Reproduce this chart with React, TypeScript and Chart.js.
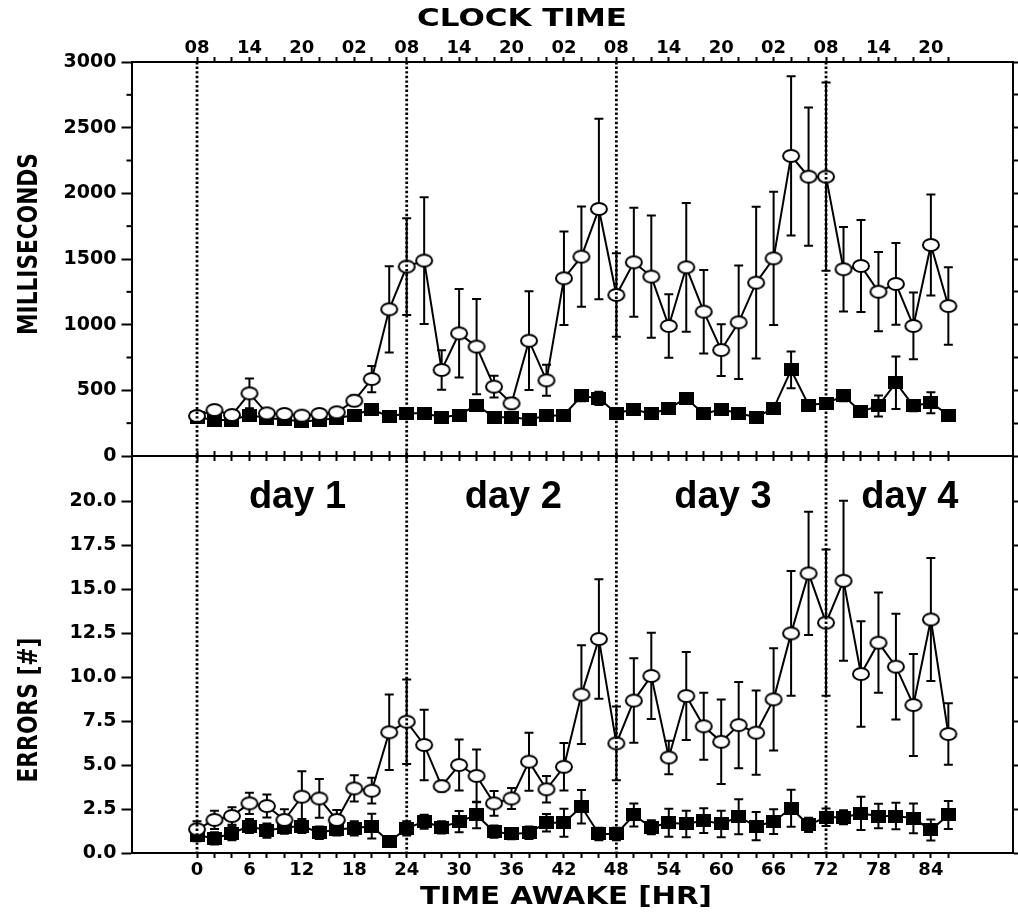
import React, { useEffect, useRef } from 'react';
import { Chart, registerables } from 'chart.js';

Chart.register(...registerables);

// ---------- data ----------
const HOURS = [0, 2, 4, 6, 8, 10, 12, 14, 16, 18, 20, 22, 24, 26, 28, 30, 32, 34, 36, 38, 40, 42, 44, 46, 48, 50, 52, 54, 56, 58, 60, 62, 64, 66, 68, 70, 72, 74, 76, 78, 80, 82, 84, 86];

const CLOCK_LABELS = ['08', '14', '20', '02', '08', '14', '20', '02', '08', '14', '20', '02', '08', '14', '20'];
const HOUR_LABEL_STEP = 6;

const MS_TICKS = [0, 500, 1000, 1500, 2000, 2500, 3000];
const MS_MINOR_TICKS = [250, 750, 1250, 1750, 2250, 2750];
const ERR_TICKS = [0, 2.5, 5, 7.5, 10, 12.5, 15, 17.5, 20];

// open circles: response time (ms)
const RT_OPEN = [305, 350, 312, 477, 325, 320, 307, 320, 333, 421, 586, 1117, 1442, 1488, 655, 934, 833, 528, 401, 878, 576, 1353, 1518, 1881, 1226, 1475, 1366, 990, 1437, 1099, 807, 1018, 1320, 1505, 2285, 2127, 2127, 1422, 1447, 1251, 1310, 990, 1607, 1142];
const RT_OPEN_SEM = [30, 30, 25, 113, 25, 25, 25, 25, 30, 40, 100, 328, 368, 483, 150, 337, 362, 83, 40, 376, 118, 356, 381, 687, 318, 415, 466, 242, 490, 318, 197, 432, 578, 508, 606, 526, 717, 322, 350, 302, 311, 254, 385, 295];

// filled squares: response time (ms)
const RT_FILLED = [295, 274, 274, 312, 288, 280, 261, 274, 288, 312, 356, 300, 325, 325, 295, 312, 388, 295, 295, 280, 305, 312, 457, 439, 325, 356, 320, 363, 439, 320, 356, 325, 295, 363, 655, 388, 401, 457, 337, 381, 558, 381, 406, 312];
const RT_FILLED_SEM = [25, 25, 25, 40, 25, 25, 25, 25, 25, 25, 30, 25, 25, 25, 25, 25, 30, 25, 25, 25, 25, 25, 40, 50, 25, 30, 25, 30, 40, 25, 25, 25, 25, 30, 140, 30, 30, 40, 30, 80, 200, 40, 80, 30];

// open circles: errors (#)
const ERR_OPEN = [1.35, 1.88, 2.1, 2.82, 2.67, 1.88, 3.2, 3.1, 1.88, 3.67, 3.54, 6.86, 7.46, 6.14, 3.8, 5.0, 4.38, 2.82, 3.1, 5.19, 3.62, 4.9, 9.0, 12.16, 6.23, 8.66, 10.06, 5.43, 8.92, 7.2, 6.32, 7.27, 6.84, 8.73, 12.48, 15.89, 13.09, 15.47, 10.17, 11.95, 10.59, 8.41, 13.27, 6.76];
const ERR_OPEN_SEM = [0.45, 0.52, 0.5, 0.6, 0.65, 0.6, 1.45, 1.1, 0.57, 0.75, 0.73, 2.15, 2.4, 2.0, 0.3, 1.45, 1.5, 0.7, 0.6, 1.65, 0.75, 1.35, 2.8, 3.4, 2.1, 2.4, 2.45, 0.95, 2.5, 1.9, 2.4, 2.45, 2.4, 2.9, 3.55, 3.5, 4.15, 4.55, 3.0, 2.85, 3.0, 2.9, 3.5, 1.75];

// filled squares: errors (#)
const ERR_FILLED = [1.02, 0.83, 1.12, 1.53, 1.27, 1.45, 1.53, 1.15, 1.35, 1.4, 1.53, 0.64, 1.4, 1.78, 1.46, 1.78, 2.16, 1.21, 1.08, 1.15, 1.72, 1.72, 2.63, 1.08, 1.08, 2.16, 1.46, 1.72, 1.65, 1.84, 1.65, 2.06, 1.53, 1.78, 2.54, 1.6, 2.03, 2.03, 2.25, 2.1, 2.1, 1.97, 1.31, 2.16];
const ERR_FILLED_SEM = [0.35, 0.35, 0.4, 0.4, 0.4, 0.35, 0.4, 0.35, 0.35, 0.4, 0.7, 0.3, 0.4, 0.4, 0.35, 0.6, 0.75, 0.35, 0.3, 0.35, 0.5, 0.8, 0.95, 0.35, 0.35, 0.65, 0.4, 0.8, 0.75, 0.7, 0.75, 1.0, 0.8, 0.7, 1.05, 0.4, 0.5, 0.4, 0.95, 0.7, 0.75, 0.85, 0.6, 0.8];

const DAY_LABELS = ['day 1', 'day 2', 'day 3', 'day 4'];
const DAY_LABEL_HOURS = [11.5, 36.2, 60.2, 81.6];
const DAY_BOUNDARIES = [0, 24, 48, 72];

// ---------- layout ----------
const W = 1018;
const H = 916;
const X_MIN = -7.5;
const X_MAX = 93.4;
const PLOT_LEFT = 131.5;
const PLOT_RIGHT_PAD = 5;
const TOP_PANEL_TOP = 62;
const MID_LINE = 456;
const BOTTOM_PANEL_BOTTOM = 853;
const ERR_MAX = 22.56;

const TICK_FONT = { family: "'DejaVu Sans', sans-serif", weight: 'bold' as const, size: 17 };
const TITLE_FONT = "'DejaVu Sans', 'Liberation Sans', sans-serif";

function makeEllipse(): HTMLCanvasElement {
  const c = document.createElement('canvas');
  c.width = 20;
  c.height = 16;
  const g = c.getContext('2d')!;
  g.beginPath();
  g.ellipse(10, 8, 8, 6, 0, 0, Math.PI * 2);
  g.fillStyle = '#fff';
  g.fill();
  g.lineWidth = 2;
  g.strokeStyle = '#000';
  g.stroke();
  return c;
}

function makeSquare(): HTMLCanvasElement {
  const c = document.createElement('canvas');
  c.width = 15;
  c.height = 13;
  const g = c.getContext('2d')!;
  g.fillStyle = '#000';
  g.fillRect(0, 0, 15, 13);
  return c;
}

function fitText(ctx: CanvasRenderingContext2D, text: string, x: number, y: number, font: string, width: number, rotate: boolean) {
  ctx.save();
  ctx.font = font;
  const w = ctx.measureText(text).width;
  ctx.translate(x, y);
  if (rotate) ctx.rotate(-Math.PI / 2);
  ctx.scale(width / w, 1);
  ctx.textAlign = 'center';
  ctx.textBaseline = 'middle';
  ctx.fillStyle = '#000';
  ctx.fillText(text, 0, 0);
  ctx.restore();
}

const setHourTicks = (s: any) => {
  s.ticks = HOURS.map((v) => ({ value: v }));
};

function errorBarPlugin(id: string) {
  return {
    id,
    beforeDatasetsDraw(chart: any) {
      const ctx = chart.ctx as CanvasRenderingContext2D;
      ctx.save();
      ctx.strokeStyle = '#000';
      ctx.lineWidth = 2;
      chart.data.datasets.forEach((ds: any, di: number) => {
        const meta = chart.getDatasetMeta(di);
        const ys = chart.scales[meta.yAxisID];
        const sem: number[] = ds.sem || [];
        meta.data.forEach((pt: any, i: number) => {
          const v = ds.data[i].y;
          const e = sem[i] || 0;
          const y1 = ys.getPixelForValue(v + e);
          const y2 = ys.getPixelForValue(v - e);
          ctx.beginPath();
          ctx.moveTo(pt.x, y1);
          ctx.lineTo(pt.x, y2);
          ctx.moveTo(pt.x - 4.5, y1);
          ctx.lineTo(pt.x + 4.5, y1);
          ctx.moveTo(pt.x - 4.5, y2);
          ctx.lineTo(pt.x + 4.5, y2);
          ctx.stroke();
        });
      });
      ctx.restore();
    },
    afterDatasetsDraw(chart: any) {
      const ctx = chart.ctx as CanvasRenderingContext2D;
      const { top, bottom } = chart.chartArea;
      const xs = chart.scales.x;
      ctx.save();
      ctx.strokeStyle = '#000';
      ctx.lineWidth = 2.8;
      ctx.setLineDash([2.4, 2.2]);
      DAY_BOUNDARIES.forEach((h) => {
        const x = xs.getPixelForValue(h);
        ctx.beginPath();
        ctx.moveTo(x, top);
        ctx.lineTo(x, bottom);
        ctx.stroke();
      });
      ctx.restore();
    },
  };
}

const topDecor = {
  id: 'topDecor',
  afterDraw(chart: any) {
    const ctx = chart.ctx as CanvasRenderingContext2D;
    const ys = chart.scales.y;
    ctx.save();
    ctx.strokeStyle = '#000';
    ctx.lineWidth = 2;
    MS_MINOR_TICKS.forEach((v) => {
      const y = ys.getPixelForValue(v);
      ctx.beginPath();
      ctx.moveTo(PLOT_LEFT - 5, y);
      ctx.lineTo(PLOT_LEFT, y);
      ctx.stroke();
    });
    ctx.restore();
    fitText(ctx, 'CLOCK TIME', 522, 20, `bold 24px ${TITLE_FONT}`, 210, false);
    fitText(ctx, 'MILLISECONDS', 30, 244, `bold 27px ${TITLE_FONT}`, 182, true);
  },
};

const bottomDecor = {
  id: 'bottomDecor',
  afterDraw(chart: any) {
    const ctx = chart.ctx as CanvasRenderingContext2D;
    const xs = chart.scales.x;
    fitText(ctx, 'TIME AWAKE [HR]', 566, 898, `bold 24px ${TITLE_FONT}`, 292, false);
    fitText(ctx, 'ERRORS [#]', 30, 710, `bold 27px ${TITLE_FONT}`, 145, true);
    ctx.save();
    ctx.fillStyle = '#000';
    ctx.font = "bold 38px 'Liberation Sans', Arial, sans-serif";
    ctx.textAlign = 'center';
    ctx.textBaseline = 'alphabetic';
    DAY_LABELS.forEach((t, i) => {
      ctx.fillText(t, xs.getPixelForValue(DAY_LABEL_HOURS[i]), 508);
    });
    ctx.restore();
  },
};

function hourAxis(position: 'top' | 'bottom', height: number, extra: any) {
  return {
    type: 'linear',
    position,
    min: X_MIN,
    max: X_MAX,
    afterBuildTicks: setHourTicks,
    grid: { drawOnChartArea: false, tickLength: 5, tickWidth: 2, tickColor: '#000' },
    border: { color: '#000', width: 2 },
    afterFit: (s: any) => {
      s.height = height;
    },
    ...extra,
  };
}

function series(values: number[], sem: number[], marker: HTMLCanvasElement, order: number) {
  return {
    data: HOURS.map((h, i) => ({ x: h, y: values[i] })),
    sem,
    borderColor: '#000',
    borderWidth: 2,
    backgroundColor: '#000',
    pointStyle: marker,
    pointRadius: 6,
    pointHoverRadius: 6,
    tension: 0,
    fill: false,
    order,
  };
}

export default function App() {
  const topRef = useRef<HTMLCanvasElement>(null);
  const botRef = useRef<HTMLCanvasElement>(null);

  useEffect(() => {
    const ellipse = makeEllipse();
    const square = makeSquare();

    const common = {
      responsive: false,
      animation: false as const,
      devicePixelRatio: 1,
      layout: { padding: 0, autoPadding: false },
      plugins: { legend: { display: false }, tooltip: { enabled: false } },
      events: [],
    };

    const topChart = new Chart(topRef.current!, {
      type: 'line',
      data: {
        datasets: [
          series(RT_OPEN, RT_OPEN_SEM, ellipse, 0) as any,
          series(RT_FILLED, RT_FILLED_SEM, square, 1) as any,
        ],
      },
      options: {
        ...common,
        scales: {
          x: hourAxis('bottom', H - MID_LINE, { ticks: { display: false } }),
          xTop: hourAxis('top', TOP_PANEL_TOP, {
            ticks: {
              autoSkip: false,
              maxRotation: 0,
              padding: -2,
              color: '#000',
              font: { ...TICK_FONT, size: 18 },
              callback: (v: number) => (v % HOUR_LABEL_STEP === 0 ? CLOCK_LABELS[v / HOUR_LABEL_STEP] : ''),
            },
          }),
          y: {
            type: 'linear',
            position: 'left',
            min: 0,
            max: 3000,
            afterBuildTicks: (s: any) => {
              s.ticks = MS_TICKS.map((v) => ({ value: v }));
            },
            ticks: { color: '#000', font: { ...TICK_FONT, size: 19 }, padding: 5, callback: (v: number) => String(v) },
            grid: { drawOnChartArea: false, tickLength: 10, tickWidth: 2, tickColor: '#000' },
            border: { color: '#000', width: 2 },
            afterFit: (s: any) => {
              s.width = PLOT_LEFT;
            },
          },
          y2: {
            type: 'linear',
            position: 'right',
            min: 0,
            max: 3000,
            afterBuildTicks: (s: any) => {
              s.ticks = [...MS_TICKS, ...MS_MINOR_TICKS].map((v) => ({ value: v }));
            },
            ticks: { display: false },
            grid: { drawOnChartArea: false, tickLength: 5, tickWidth: 2, tickColor: '#000' },
            border: { color: '#000', width: 2 },
            afterFit: (s: any) => {
              s.width = PLOT_RIGHT_PAD;
            },
          },
        },
      } as any,
      plugins: [errorBarPlugin('ebTop'), topDecor],
    });

    const botChart = new Chart(botRef.current!, {
      type: 'line',
      data: {
        datasets: [
          series(ERR_OPEN, ERR_OPEN_SEM, ellipse, 0) as any,
          series(ERR_FILLED, ERR_FILLED_SEM, square, 1) as any,
        ],
      },
      options: {
        ...common,
        scales: {
          x: hourAxis('bottom', H - BOTTOM_PANEL_BOTTOM, {
            ticks: {
              autoSkip: false,
              maxRotation: 0,
              padding: 2,
              color: '#000',
              font: { ...TICK_FONT, size: 18 },
              callback: (v: number) => (v % HOUR_LABEL_STEP === 0 ? String(v) : ''),
            },
          }),
          xTop: hourAxis('top', MID_LINE, { ticks: { display: false } }),
          y: {
            type: 'linear',
            position: 'left',
            min: 0,
            max: ERR_MAX,
            afterBuildTicks: (s: any) => {
              s.ticks = ERR_TICKS.map((v) => ({ value: v }));
            },
            ticks: { color: '#000', font: { ...TICK_FONT, size: 19 }, padding: 5, callback: (v: number) => v.toFixed(1) },
            grid: { drawOnChartArea: false, tickLength: 10, tickWidth: 2, tickColor: '#000' },
            border: { color: '#000', width: 2 },
            afterFit: (s: any) => {
              s.width = PLOT_LEFT;
            },
          },
          y2: {
            type: 'linear',
            position: 'right',
            min: 0,
            max: ERR_MAX,
            afterBuildTicks: (s: any) => {
              s.ticks = ERR_TICKS.map((v) => ({ value: v }));
            },
            ticks: { display: false },
            grid: { drawOnChartArea: false, tickLength: 5, tickWidth: 2, tickColor: '#000' },
            border: { color: '#000', width: 2 },
            afterFit: (s: any) => {
              s.width = PLOT_RIGHT_PAD;
            },
          },
        },
      } as any,
      plugins: [errorBarPlugin('ebBot'), bottomDecor],
    });

    return () => {
      topChart.destroy();
      botChart.destroy();
    };
  }, []);

  const canvasStyle: React.CSSProperties = { position: 'absolute', left: 0, top: 0, width: W, height: H };

  return (
    <div style={{ position: 'absolute', left: 0, top: 0, width: W, height: H, background: '#fff' }}>
      <canvas ref={topRef} width={W} height={H} style={canvasStyle} />
      <canvas ref={botRef} width={W} height={H} style={canvasStyle} />
    </div>
  );
}
